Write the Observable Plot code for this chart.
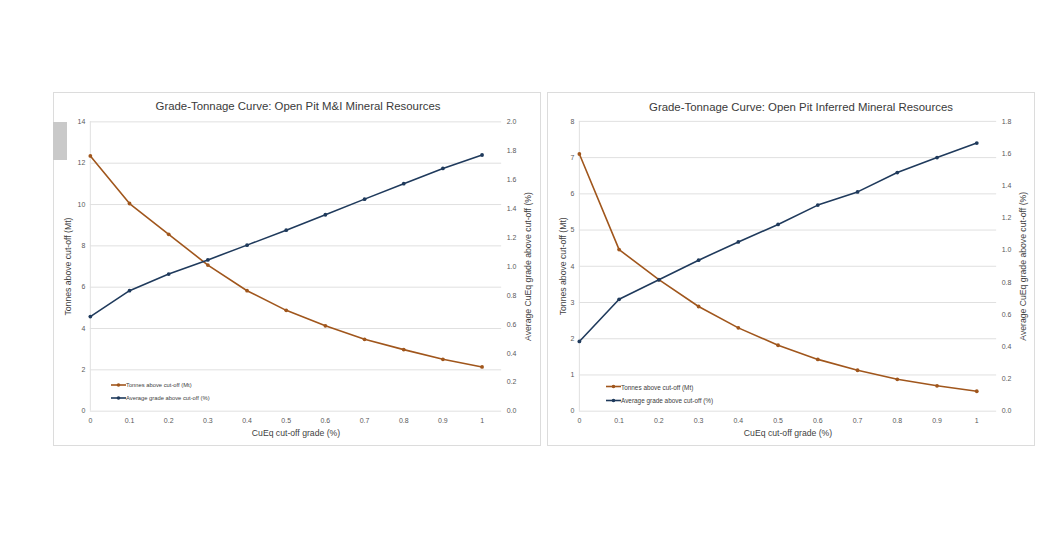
<!DOCTYPE html>
<html>
<head>
<meta charset="utf-8">
<script src="https://cdn.jsdelivr.net/npm/d3@7"></script>
<script src="https://cdn.jsdelivr.net/npm/@observablehq/plot@0.6"></script>
<style>
  html, body { margin: 0; padding: 0; background: #ffffff; }
  #page { position: relative; width: 1043px; height: 546px; overflow: hidden; font-family: "Liberation Sans", Arial, sans-serif; }
  .panel { position: absolute; border: 1px solid #dcdcdc; box-sizing: border-box; background: #fff; }
  .panel svg { position: absolute; left: 0; top: 0; overflow: visible; }
  .title { position: absolute; white-space: nowrap; transform: translate(-50%, -50%); font-size: 11.4px; color: #3a3a3a; }
  .legend { position: absolute; white-space: nowrap; color: #404040; }
  .legend .row { position: absolute; left: 0; display: flex; align-items: center; transform: translateY(-50%); }
  .legend svg { position: static; }
  #artifact { position: absolute; left: 53px; top: 122px; width: 14px; height: 38px; background: #c9c9c9; }
</style>
</head>
<body>
<div id="page"></div>
<script>
// ---- data ----
const cutoff = [0, 0.1, 0.2, 0.3, 0.4, 0.5, 0.6, 0.7, 0.8, 0.9, 1.0];

const miTonnes = [12.35, 10.05, 8.56, 7.07, 5.83, 4.88, 4.13, 3.48, 2.98, 2.51, 2.14];
const miGrade  = [0.654, 0.833, 0.948, 1.046, 1.148, 1.251, 1.358, 1.466, 1.573, 1.678, 1.771];

const infTonnes = [7.10, 4.46, 3.63, 2.89, 2.30, 1.82, 1.43, 1.13, 0.88, 0.70, 0.55];
const infGrade  = [0.433, 0.695, 0.816, 0.938, 1.051, 1.160, 1.280, 1.362, 1.482, 1.575, 1.665];

const miTitle = "Grade-Tonnage Curve: Open Pit M&I Mineral Resources";
const infTitle = "Grade-Tonnage Curve: Open Pit Inferred Mineral Resources";
const xLabel = "CuEq cut-off grade (%)";
const yLabel = "Tonnes above cut-off (Mt)";
const y2Label = "Average CuEq grade above cut-off (%)";
const seriesNames = ["Tonnes above cut-off (Mt)", "Average grade above cut-off (%)"];

const miLeftTicks = [0, 2, 4, 6, 8, 10, 12, 14];
const miRightTicks = [0, 0.2, 0.4, 0.6, 0.8, 1.0, 1.2, 1.4, 1.6, 1.8, 2.0];
const infLeftTicks = [0, 1, 2, 3, 4, 5, 6, 7, 8];
const infRightTicks = [0, 0.2, 0.4, 0.6, 0.8, 1.0, 1.2, 1.4, 1.6, 1.8];

// ---- styling ----
const BROWN = "#a0561c";
const NAVY = "#1f3a5c";
const TEXT = "#5a5a5a";
const GRID = "#e0e0e0";

const page = document.getElementById("page");

function makeChart(cfg) {
  const panel = document.createElement("div");
  panel.className = "panel";
  Object.assign(panel.style, {left: cfg.left + "px", top: cfg.top + "px", width: cfg.width + "px", height: cfg.height + "px"});
  page.appendChild(panel);

  const yMax = cfg.leftTicks[cfg.leftTicks.length - 1];
  const y2Max = cfg.rightTicks[cfg.rightTicks.length - 1];
  const k = yMax / y2Max;
  const rows = cutoff.map((c, i) => ({c, t: cfg.tonnes[i], g: cfg.grade[i] * k}));

  const chart = Plot.plot({
    width: cfg.width,
    height: cfg.height,
    marginLeft: cfg.ml,
    marginRight: cfg.mr,
    marginTop: cfg.mt,
    marginBottom: cfg.mb,
    style: {fontFamily: "'Liberation Sans', Arial, sans-serif", fontSize: "7px", color: TEXT, background: "transparent", overflow: "visible"},
    x: {domain: [0, 1.05]},
    y: {domain: [0, yMax]},
    marks: [
      Plot.gridY(cfg.leftTicks, {stroke: GRID, strokeOpacity: 1, strokeWidth: 1}),
      Plot.ruleX([0], {stroke: GRID, strokeWidth: 1}),
      Plot.axisX(cutoff, {tickSize: 0, tickPadding: 6.5, tickFormat: d => String(+d.toFixed(1)), label: null}),
      Plot.axisX({tickSize: 0, ticks: [], label: xLabel, labelAnchor: "center", labelArrow: "none", labelOffset: 25, fontSize: 8.7, fill: "#3f3f3f"}),
      Plot.axisY(cfg.leftTicks, {tickSize: 0, tickPadding: 5, tickFormat: d => String(d), label: null}),
      Plot.axisY({tickSize: 0, ticks: [], label: yLabel, labelAnchor: "center", labelArrow: "none", labelOffset: cfg.yLabelOffset, fontSize: 8.7, fill: "#3f3f3f"}),
      Plot.axisY(cfg.rightTicks.map(v => v * k), {anchor: "right", tickSize: 0, tickPadding: 5, tickFormat: d => (d / k).toFixed(1), label: null}),
      Plot.axisY({anchor: "right", tickSize: 0, ticks: [], label: y2Label, labelAnchor: "center", labelArrow: "none", labelOffset: cfg.y2LabelOffset, fontSize: 8.7, fill: "#3f3f3f"}),
      Plot.line(rows, {x: "c", y: "t", stroke: BROWN, strokeWidth: 1.6}),
      Plot.dot(rows, {x: "c", y: "t", fill: BROWN, r: 1.9}),
      Plot.line(rows, {x: "c", y: "g", stroke: NAVY, strokeWidth: 1.6}),
      Plot.dot(rows, {x: "c", y: "g", fill: NAVY, r: 1.9})
    ]
  });
  panel.appendChild(chart);

  const title = document.createElement("div");
  title.className = "title";
  title.textContent = cfg.title;
  Object.assign(title.style, {left: cfg.titleX + "px", top: cfg.titleY + "px"});
  panel.appendChild(title);

  const legend = document.createElement("div");
  legend.className = "legend";
  Object.assign(legend.style, {left: cfg.legX + "px", top: cfg.legY + "px", fontSize: cfg.legFont + "px"});
  [BROWN, NAVY].forEach((col, i) => {
    const row = document.createElement("div");
    row.className = "row";
    row.style.top = (i * cfg.legGap) + "px";
    row.innerHTML = `<svg width="15" height="6"><line x1="0" x2="15" y1="3" y2="3" stroke="${col}" stroke-width="1.6"/><circle cx="7.5" cy="3" r="1.8" fill="${col}"/></svg><span>${seriesNames[i]}</span>`;
    legend.appendChild(row);
  });
  panel.appendChild(legend);
}

makeChart({
  left: 53, top: 92, width: 488, height: 354,
  ml: 36, mr: 39, mt: 28.5, mb: 35,
  tonnes: miTonnes, grade: miGrade,
  leftTicks: miLeftTicks, rightTicks: miRightTicks,
  title: miTitle, titleX: 244, titleY: 13,
  yLabelOffset: 26, y2LabelOffset: 29.5,
  legX: 57, legY: 292, legGap: 13, legFont: 5.8
});

makeChart({
  left: 547, top: 92, width: 488, height: 354,
  ml: 31, mr: 38, mt: 28, mb: 35,
  tonnes: infTonnes, grade: infGrade,
  leftTicks: infLeftTicks, rightTicks: infRightTicks,
  title: infTitle, titleX: 253, titleY: 14,
  yLabelOffset: 20, y2LabelOffset: 29.5,
  legX: 58, legY: 293.5, legGap: 13.6, legFont: 6.4
});

const art = document.createElement("div");
art.id = "artifact";
page.appendChild(art);
</script>
</body>
</html>
